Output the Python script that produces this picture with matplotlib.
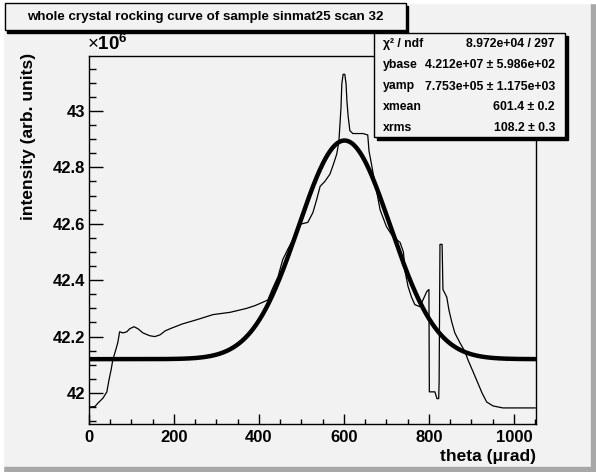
import matplotlib
matplotlib.use("Agg")
import matplotlib.pyplot as plt
import numpy as np
from matplotlib.patches import Rectangle
from matplotlib.ticker import MultipleLocator, FormatStrFormatter

plt.rcParams['font.family'] = ['Liberation Sans', 'DejaVu Sans']
plt.rcParams['mathtext.fontset'] = 'custom'
plt.rcParams['mathtext.rm'] = 'Liberation Sans'
plt.rcParams['mathtext.bf'] = 'Liberation Sans:bold'

# histogram (theta in urad, intensity in 1e6)
theta = [0, 14, 21, 33, 42, 47, 52, 56, 63, 68, 72, 80, 89, 96, 106, 115, 127,
         143, 155, 167, 179, 191, 220, 254, 292, 332, 371, 391, 414, 421, 431,
         445, 456, 468, 480, 489, 496, 515, 527, 536, 544, 555, 567, 575, 583,
         588, 593, 595, 598, 602, 605, 607, 610, 614, 621, 645, 656, 659, 665,
         669, 677, 685, 700, 715, 732, 740, 744, 751, 759, 767, 779, 786, 795,
         800, 801, 814, 819, 823, 824, 826, 831, 833, 842, 847, 854, 861, 873,
         885, 892, 904, 915, 925, 936, 951, 974, 1050]
intensity = [41.950, 41.952, 41.964, 41.982, 42.004, 42.046, 42.082, 42.117,
             42.153, 42.180, 42.217, 42.213, 42.217, 42.228, 42.235, 42.228,
             42.213, 42.203, 42.200, 42.206, 42.220, 42.228, 42.245, 42.260,
             42.278, 42.286, 42.300, 42.310, 42.325, 42.330, 42.367, 42.413,
             42.473, 42.510, 42.544, 42.580, 42.598, 42.605, 42.640, 42.687,
             42.733, 42.750, 42.776, 42.810, 42.847, 42.890, 43.010, 43.096,
             43.130, 43.130, 43.096, 43.035, 42.980, 42.930, 42.920, 42.920,
             42.915, 42.858, 42.810, 42.776, 42.715, 42.650, 42.590, 42.555,
             42.534, 42.500, 42.430, 42.377, 42.340, 42.313, 42.306, 42.330,
             42.360, 42.367, 42.004, 42.004, 41.980, 41.980, 42.040, 42.527,
             42.527, 42.367, 42.340, 42.295, 42.250, 42.213, 42.178, 42.146,
             42.117, 42.075, 42.036, 42.000, 41.968, 41.954, 41.947, 41.947]

# fit parameters from the stats box
ybase = 4.212e7
yamp = 7.753e5
xmean = 601.4
xrms = 108.2
fit_range = (5, 1047)

stat_labels = ['χ² / ndf', 'ybase', 'yamp', 'xmean', 'xrms']
stat_values = ['8.972e+04 / 297', '4.212e+07 ± 5.986e+02',
               '7.753e+05 ± 1.175e+03', '601.4 ± 0.2', '108.2 ± 0.3']

title = 'whole crystal rocking curve of sample sinmat25 scan 32'

W, H = 596, 472
bg = '#f2f2f2'
fig = plt.figure(figsize=(W / 100, H / 100), dpi=100, facecolor=bg)

# canvas bevel
fig.patches.append(Rectangle((0, 0), 1, 5 / H, transform=fig.transFigure,
                             color='#a8a8a8', zorder=0))
fig.patches.append(Rectangle((1 - 5 / W, 0), 5 / W, 1, transform=fig.transFigure,
                             color='#a8a8a8', zorder=0))
fig.patches.append(Rectangle((0, 1 - 3 / H), 1, 3 / H, transform=fig.transFigure,
                             color='#ffffff', zorder=0))
fig.patches.append(Rectangle((0, 0), 3 / W, 1, transform=fig.transFigure,
                             color='#ffffff', zorder=0))

ax = fig.add_axes([89 / W, (H - 424) / H, 447 / W, 368 / H])
ax.set_facecolor(bg)

ax.plot(theta, intensity, color='black', lw=0.9)

xf = np.linspace(fit_range[0], fit_range[1], 600)
yf = (ybase + yamp * np.exp(-0.5 * ((xf - xmean) / xrms) ** 2)) / 1e6
ax.plot(xf, yf, color='black', lw=3.2)

ax.set_xlim(0, 1052)
ax.set_ylim(41.890, 43.195)

ax.xaxis.set_major_locator(MultipleLocator(200))
ax.xaxis.set_minor_locator(MultipleLocator(50))
ax.yaxis.set_major_locator(MultipleLocator(0.2))
ax.yaxis.set_minor_locator(MultipleLocator(0.05))
ax.yaxis.set_major_formatter(FormatStrFormatter('%g'))

ax.tick_params(axis='both', which='both', direction='in', top=False, right=False,
               labelsize=12, width=1)
ax.tick_params(axis='x', which='major', length=7.2, pad=4)
ax.tick_params(axis='x', which='minor', length=3.6)
ax.tick_params(axis='y', which='major', length=10, pad=3)
ax.tick_params(axis='y', which='minor', length=5)
for lab in ax.get_xticklabels() + ax.get_yticklabels():
    lab.set_fontweight('bold')
for s in ax.spines.values():
    s.set_linewidth(1)

ax.set_ylabel('intensity (arb. units)', loc='top', fontsize=12.5, fontweight='bold')
ax.yaxis.set_label_coords(-0.118, 1.008)
ax.set_xlabel('theta (μrad)', loc='right', fontsize=12.5, fontweight='bold')
ax.xaxis.set_label_coords(1.0, -0.068)

fig.text(87 / W, 1 - 44 / H, r'$\times\mathbf{10^{6}}$', fontsize=13.5,
         ha='left', va='center')


def shadow_box(x0, y0, x1, y1):
    # box in pixel coords (top-left origin), with ROOT-like shadow
    fx, fy = x0 / W, 1 - y1 / H
    fw, fh = (x1 - x0) / W, (y1 - y0) / H
    fig.patches.append(Rectangle((fx + 2.5 / W, fy - 2.5 / H), fw, fh,
                                 transform=fig.transFigure, facecolor='black',
                                 edgecolor='black', zorder=5))
    fig.patches.append(Rectangle((fx, fy), fw, fh, transform=fig.transFigure,
                                 facecolor=bg, edgecolor='black', lw=1, zorder=6))


shadow_box(5, 3, 406, 30)
fig.text(205 / W, 1 - 17 / H, title, ha='center', va='center', fontsize=9.6,
         fontweight='bold', zorder=7)

shadow_box(374, 33, 565, 137)
rows = [44, 65, 86.5, 107, 128]
for lab, val, yp in zip(stat_labels, stat_values, rows):
    fig.text(383 / W, 1 - yp / H, lab, ha='left', va='center', fontsize=8.8,
             fontweight='bold', zorder=7)
    fig.text(555 / W, 1 - yp / H, val, ha='right', va='center', fontsize=8.8,
             fontweight='bold', zorder=7)

fig.savefig('out.png', dpi=100, facecolor=bg)
